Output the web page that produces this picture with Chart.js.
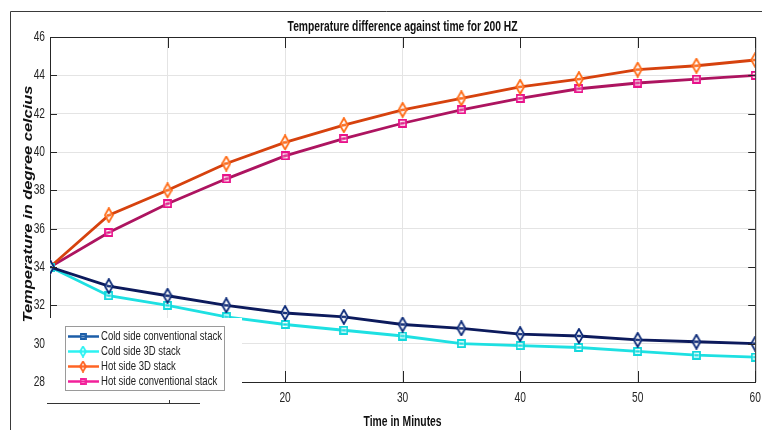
<!DOCTYPE html>
<html lang="en">
<head>
  <meta charset="UTF-8" />
  <title>Temperature difference against time for 200 HZ</title>
  <script src="https://cdn.jsdelivr.net/npm/chart.js"></script>
  <style>
    html, body { margin: 0; padding: 0; background: #fff; }
    #tempChart { display: block; width: 762px; height: 430px; }
  </style>
</head>
<body>
<canvas id="tempChart" width="762" height="430"></canvas>

<script>
  // Data (minutes, degrees C)
  const minutes = [0, 5, 10, 15, 20, 25, 30, 35, 40, 45, 50, 55, 60];
  const coldConventional = [34.0, 33.0, 32.5, 32.0, 31.6, 31.4, 31.0, 30.8, 30.5, 30.4, 30.2, 30.1, 30.0];
  const cold3D = [34.0, 32.5, 32.0, 31.4, 31.0, 30.7, 30.4, 30.0, 29.9, 29.8, 29.6, 29.4, 29.3];
  const hot3D = [34.0, 36.7, 38.0, 39.4, 40.5, 41.4, 42.2, 42.8, 43.4, 43.8, 44.3, 44.5, 44.8];
  const hotConventional = [34.0, 35.8, 37.3, 38.6, 39.8, 40.7, 41.5, 42.2, 42.8, 43.3, 43.6, 43.8, 44.0];
  const seriesLabels = ['Cold side conventional stack', 'Cold side 3D stack', 'Hot side 3D stack', 'Hot side conventional stack'];
  const chartTitle = 'Temperature difference against time for 200 HZ';
  const xTitle = 'Time in Minutes';
  const yTitle = 'Temperature in degree celcius';

  const SANS = "'Liberation Sans', Arial, sans-serif";

  // MATLAB style hollow markers drawn on small canvases
  function marker(shape, color, scale) {
    const c = document.createElement('canvas');
    const w = Math.round((shape === 'diamond' ? 10 : 9) * scale);
    const h = Math.round((shape === 'diamond' ? 16 : 9) * scale);
    c.width = w; c.height = h;
    const g = c.getContext('2d');
    g.strokeStyle = color;
    g.fillStyle = 'rgba(255,255,255,0.55)';
    g.lineWidth = 1.8;
    g.beginPath();
    if (shape === 'diamond') {
      g.moveTo(w / 2, 1); g.lineTo(w - 1, h / 2); g.lineTo(w / 2, h - 1); g.lineTo(1, h / 2); g.closePath();
    } else {
      g.rect(1, 1, w - 2, h - 2);
    }
    g.fill(); g.stroke();
    g.beginPath(); g.moveTo(w / 2 - 2, h / 2); g.lineTo(w / 2 + 2, h / 2); g.stroke();
    return c;
  }

  function pts(values) {
    return values.map((v, i) => ({ x: minutes[i], y: v }));
  }

  // the figure was squeezed sideways, so text is drawn condensed
  function text(ctx, str, x, y, font, opts) {
    ctx.save();
    ctx.font = font;
    ctx.fillStyle = opts.color || '#262626';
    ctx.textAlign = opts.align || 'center';
    ctx.textBaseline = 'middle';
    ctx.translate(x, y);
    if (opts.rotate) ctx.rotate(opts.rotate);
    let sx = opts.sx || 1;
    if (opts.width) sx = opts.width / ctx.measureText(str).width;
    ctx.scale(sx, 1);
    ctx.fillText(str, 0, 0);
    ctx.restore();
  }

  // legend as drawn in the figure (its colours differ a bit from the plot)
  const legendStyle = [
    { color: '#1c5ea8', shape: 'square' },
    { color: '#2cf2f2', shape: 'diamond' },
    { color: '#ff6424', shape: 'diamond' },
    { color: '#f2209a', shape: 'square' }
  ];

  const matlabLook = {
    id: 'matlabLook',
    afterDraw(chart) {
      const ctx = chart.ctx;
      const a = chart.chartArea;
      const xs = chart.scales.x, ys = chart.scales.y;
      const midX = (a.left + a.right) / 2;
      ctx.save();
      ctx.strokeStyle = '#262626';
      ctx.lineWidth = 1;

      // top and right axes of the box
      ctx.beginPath();
      ctx.moveTo(a.left, a.top + 0.5); ctx.lineTo(a.right + 0.5, a.top + 0.5); ctx.lineTo(a.right + 0.5, a.bottom);
      ctx.stroke();

      // inward tick marks
      ctx.beginPath();
      xs.ticks.forEach(t => {
        const px = Math.round(xs.getPixelForValue(t.value)) + 0.5;
        ctx.moveTo(px, a.bottom); ctx.lineTo(px, a.bottom - 11);
        ctx.moveTo(px, a.top); ctx.lineTo(px, a.top + 11);
      });
      ys.ticks.forEach(t => {
        const py = Math.round(ys.getPixelForValue(t.value)) + 0.5;
        ctx.moveTo(a.left, py); ctx.lineTo(a.left + 7, py);
        ctx.moveTo(a.right, py); ctx.lineTo(a.right - 7, py);
      });
      ctx.stroke();

      // tick labels
      xs.ticks.forEach(t => {
        text(ctx, String(t.value), xs.getPixelForValue(t.value), a.bottom + 16, '15px ' + SANS, { sx: 0.68 });
      });
      ys.ticks.forEach(t => {
        text(ctx, String(t.value), a.left - 5, ys.getPixelForValue(t.value), '15px ' + SANS, { sx: 0.68, align: 'right' });
      });

      // titles
      text(ctx, chartTitle, midX, 27, 'bold 14px ' + SANS, { width: 230, color: '#111' });
      text(ctx, xTitle, midX, 422, 'bold 14px ' + SANS, { width: 78, color: '#111' });
      text(ctx, yTitle, 28, 204, 'italic bold 13px ' + SANS, { width: 237, color: '#111', rotate: -Math.PI / 2 });

      // outer figure frame
      ctx.strokeStyle = '#3a3a3a';
      ctx.beginPath();
      ctx.moveTo(10.5, 430); ctx.lineTo(10.5, 11.5); ctx.lineTo(762, 11.5);
      ctx.stroke();

      // white patch of the screenshot over the lower left corner
      ctx.fillStyle = '#fff';
      ctx.fillRect(47, 318, 195, 92);
      ctx.strokeStyle = '#333';
      ctx.beginPath();
      ctx.moveTo(47, 403.5); ctx.lineTo(200, 403.5);
      ctx.moveTo(169.5, 403); ctx.lineTo(169.5, 400);
      ctx.stroke();

      // legend box
      const lx = 65, ly = 326, lw = 159, lh = 64;
      ctx.fillStyle = '#fff';
      ctx.fillRect(lx, ly, lw, lh);
      ctx.strokeStyle = '#9a9a9a';
      ctx.strokeRect(lx + 0.5, ly + 0.5, lw, lh);
      ctx.font = '12px ' + SANS;
      const sx = 121 / ctx.measureText(seriesLabels[0]).width;
      seriesLabels.forEach((lab, i) => {
        const y = ly + 10.5 + i * 15;
        const st = legendStyle[i];
        ctx.strokeStyle = st.color;
        ctx.lineWidth = 2.5;
        ctx.beginPath(); ctx.moveTo(lx + 3, y); ctx.lineTo(lx + 34, y); ctx.stroke();
        const m = marker(st.shape, st.color, 0.75);
        ctx.drawImage(m, lx + 18 - m.width / 2, y - m.height / 2);
        text(ctx, lab, lx + 36, y + 0.5, '12px ' + SANS, { sx: sx, align: 'left', color: '#222' });
      });
      ctx.restore();
    }
  };

  new Chart(document.getElementById('tempChart'), {
    type: 'line',
    data: {
      datasets: [
        {
          label: seriesLabels[0], data: pts(coldConventional),
          borderColor: '#0c1a5c', borderWidth: 2.8,
          pointStyle: marker('diamond', '#0c2a78', 1), pointBorderColor: '#0c2a78'
        },
        {
          label: seriesLabels[1], data: pts(cold3D),
          borderColor: '#1ee0e2', borderWidth: 2.8,
          pointStyle: marker('square', '#12d8dc', 1), pointBorderColor: '#12d8dc'
        },
        {
          label: seriesLabels[2], data: pts(hot3D),
          borderColor: '#d6420e', borderWidth: 2.8,
          pointStyle: marker('diamond', '#ff6a14', 1), pointBorderColor: '#ff6a14'
        },
        {
          label: seriesLabels[3], data: pts(hotConventional),
          borderColor: '#ad1460', borderWidth: 2.8,
          pointStyle: marker('square', '#e8128a', 1), pointBorderColor: '#e8128a'
        }
      ]
    },
    options: {
      responsive: false,
      animation: false,
      events: [],
      layout: { padding: { left: 10, top: 37, right: 1, bottom: 0 } },
      elements: { line: { tension: 0 } },
      plugins: {
        legend: { display: false },
        tooltip: { enabled: false },
        title: { display: false }
      },
      scales: {
        x: {
          type: 'linear', min: 0, max: 60,
          ticks: { stepSize: 10, display: false },
          grid: { color: '#e4e4e4', drawTicks: false },
          border: { color: '#262626' },
          afterFit(s) { s.height = 48; s.paddingLeft = 0; s.paddingRight = 0; }
        },
        y: {
          min: 28, max: 46,
          ticks: { stepSize: 2, display: false },
          grid: { color: '#e4e4e4', drawTicks: false },
          border: { color: '#262626' },
          afterFit(s) { s.width = 40; s.paddingTop = 0; s.paddingBottom = 0; }
        }
      }
    },
    plugins: [matlabLook]
  });
</script>
</body>
</html>
